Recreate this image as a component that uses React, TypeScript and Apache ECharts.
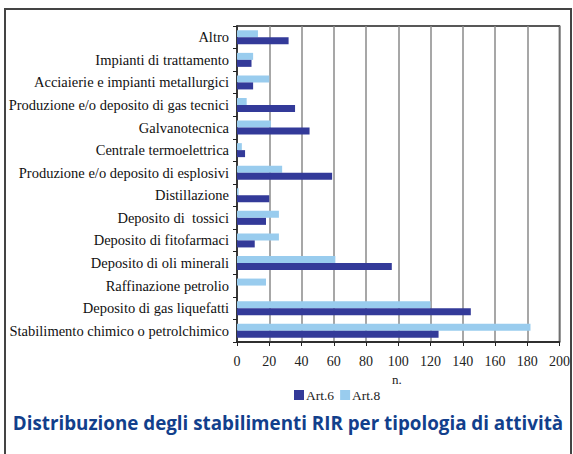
import React, { useEffect, useRef } from "react";
import * as echarts from "echarts";

const categories = [
  "Altro",
  "Impianti di trattamento",
  "Acciaierie e impianti metallurgici",
  "Produzione e/o deposito di gas tecnici",
  "Galvanotecnica",
  "Centrale termoelettrica",
  "Produzione e/o deposito di esplosivi",
  "Distillazione",
  "Deposito di  tossici",
  "Deposito di fitofarmaci",
  "Deposito di oli minerali",
  "Raffinazione petrolio",
  "Deposito di gas liquefatti",
  "Stabilimento chimico o petrolchimico",
];
const art6 = [32, 9, 10, 36, 45, 5, 59, 20, 18, 11, 96, 0, 145, 125];
const art8 = [13, 10, 20, 6, 21, 3, 28, 1, 26, 26, 61, 18, 120, 182];
const xTicks = { min: 0, max: 200, interval: 20 };
const titleText = "Distribuzione degli stabilimenti RIR per tipologia di attività";
const unitText = "n.";

const serif = "Liberation Serif, Times New Roman, serif";

export default function App() {
  const ref = useRef<HTMLDivElement>(null);
  useEffect(() => {
    document.body.style.margin = "0";
    const chart = echarts.init(ref.current!, null, { renderer: "svg" });
    chart.setOption({
      animation: false,
      backgroundColor: "#ffffff",
      textStyle: { fontFamily: serif },
      grid: {
        left: 237,
        right: 13,
        top: 26,
        bottom: 112,
        show: true,
        borderColor: "#222",
        borderWidth: 1.5,
      },
      legend: {
        data: ["Art.6", "Art.8"],
        left: 289,
        top: 383,
        itemWidth: 10,
        itemHeight: 10,
        itemGap: 6,
        icon: "rect",
        textStyle: { fontFamily: serif, fontSize: 13.5, color: "#222", padding: [0, 0, 0, -3] },
      },
      xAxis: {
        type: "value",
        min: xTicks.min,
        max: xTicks.max,
        interval: xTicks.interval,
        axisLine: { show: true, lineStyle: { color: "#222", width: 1.5 } },
        axisTick: { show: true, length: 4, lineStyle: { color: "#222" } },
        splitLine: { show: true, lineStyle: { color: "#8a8a8a", width: 1.5 } },
        axisLabel: { fontFamily: serif, fontSize: 14, color: "#222", margin: 12 },
      },
      yAxis: {
        type: "category",
        inverse: true,
        data: categories,
        axisLine: { show: true, lineStyle: { color: "#222", width: 1.5 } },
        axisTick: { show: true, length: 4, lineStyle: { color: "#222" } },
        axisLabel: { fontFamily: serif, fontSize: 14.5, color: "#111", margin: 8 },
      },
      series: [
        {
          name: "Art.8",
          type: "bar",
          data: art8,
          barWidth: 7,
          barGap: "0%",
          itemStyle: { color: "#99ccee" },
        },
        {
          name: "Art.6",
          type: "bar",
          data: art6,
          barWidth: 7,
          barGap: "0%",
          itemStyle: { color: "#333a99" },
        },
      ],
      graphic: [
        {
          type: "rect",
          shape: { x: 5, y: 9, width: 566, height: 460 },
          style: { fill: "none", stroke: "#444", lineWidth: 2 },
          silent: true,
        },
        {
          type: "text",
          x: 392,
          y: 373,
          style: { text: unitText, fontFamily: serif, fontSize: 13, fill: "#222" },
        },
        {
          type: "text",
          x: 288,
          y: 423,
          style: {
            text: titleText,
            fontFamily: "Open Sans",
            fontWeight: "bold",
            fontSize: 18.8,
            fill: "#123f8c",
            align: "center",
            verticalAlign: "middle",
          },
        },
      ],
    });
    return () => chart.dispose();
  }, []);
  return (
    <div
      ref={ref}
      style={{ position: "fixed", left: 0, top: 0, width: 573, height: 454 }}
    />
  );
}
